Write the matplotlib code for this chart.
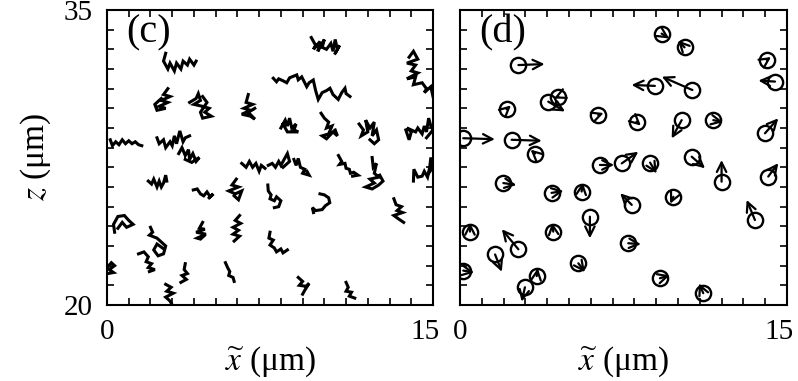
import matplotlib
matplotlib.use('Agg')
import matplotlib.pyplot as plt
import matplotlib.transforms as mtransforms

plt.rcParams['font.family'] = ['Liberation Serif', 'DejaVu Serif']
plt.rcParams['mathtext.fontset'] = 'stix'

# particle tracks for panel (c): (x list, z list) in micrometres
tracks = [
    ([9.4, 9.6, 9.5, 9.8, 9.7, 10.0, 9.9, 10.1, 10.3, 10.4, 10.5, 10.6, 10.7, 10.5],
     [33.6, 33.2, 33.0, 33.4, 32.9, 33.5, 33.1, 33.0, 33.3, 32.9, 33.5, 33.0, 33.2, 32.8]),
    ([2.7, 2.6, 2.8, 2.9, 3.1, 3.2, 3.4, 3.5, 3.7, 3.8, 4.0, 4.1],
     [32.8, 32.4, 32.0, 32.3, 31.9, 32.3, 32.0, 32.4, 32.2, 32.5, 32.2, 32.4]),
    ([13.9, 14.1, 14.3, 13.8, 14.2, 14.0, 14.3, 13.8, 14.2, 14.1, 14.5, 14.7, 14.6, 14.9, 15.0],
     [32.6, 32.9, 32.5, 32.3, 32.2, 31.9, 31.8, 31.5, 31.6, 31.2, 31.3, 31.0, 30.8, 31.1, 30.6]),
    ([7.65, 7.8, 7.9, 8.1, 8.27, 8.4, 8.73, 8.8, 8.96, 9.19, 9.3, 9.49, 9.6, 9.72, 9.9, 10.1,
      10.26, 10.4, 10.64, 10.8, 10.95, 11.0, 11.18],
     [31.53, 31.35, 31.5, 31.4, 31.3, 31.55, 31.7, 31.45, 31.6, 31.1, 31.3, 31.44, 30.9, 30.45,
      30.8, 30.9, 31.02, 30.7, 30.45, 30.8, 31.02, 30.75, 30.6]),
    ([2.8, 2.6, 2.9, 2.5, 2.8, 2.4, 2.7, 2.3, 2.2, 2.5],
     [31.0, 30.7, 30.6, 30.4, 30.3, 30.1, 30.0, 29.9, 30.2, 30.5]),
    ([3.8, 4.1, 4.2, 4.3, 4.0, 4.4, 4.7, 4.5, 4.8, 4.4, 4.3, 4.6, 4.4],
     [30.3, 30.5, 30.75, 30.4, 30.2, 30.1, 30.0, 29.8, 29.6, 29.5, 29.8, 30.3, 30.6]),
    ([6.5, 6.4, 6.7, 6.3, 6.6, 6.2, 6.6, 6.8, 6.5, 6.8],
     [30.7, 30.3, 30.2, 30.0, 29.9, 29.7, 29.6, 29.45, 29.8, 30.0]),
    ([8.0, 8.2, 8.3, 8.4, 8.5, 8.7, 8.6, 8.8, 8.3, 8.1],
     [29.0, 29.4, 29.1, 29.5, 29.0, 29.2, 28.9, 28.8, 28.8, 29.2]),
    ([9.85, 10.0, 10.2, 10.1, 10.35, 10.2, 9.9, 10.1, 10.4, 10.6, 10.5],
     [29.75, 29.5, 29.3, 29.0, 29.1, 28.7, 28.6, 28.45, 28.8, 28.6, 28.9]),
    ([11.6, 11.8, 11.7, 12.0, 11.9, 12.1, 12.3, 12.2, 12.4, 12.5, 12.3, 12.1],
     [29.2, 28.9, 28.6, 28.8, 29.4, 29.0, 29.3, 28.6, 28.9, 28.4, 28.2, 28.4]),
    ([13.75, 13.9, 14.0, 13.8, 14.2, 14.3, 14.5, 14.6, 14.7, 14.8, 14.9, 15.0, 14.7],
     [28.9, 28.4, 28.8, 29.0, 28.8, 29.0, 28.7, 29.1, 28.8, 29.5, 29.1, 28.9, 28.5]),
    ([0.15, 0.25, 0.4, 0.55, 0.7, 0.85, 1.0, 1.15, 1.3, 1.45, 1.6],
     [28.4, 28.1, 28.3, 28.15, 28.4, 28.2, 28.35, 28.2, 28.3, 28.15, 28.1]),
    ([2.3, 2.4, 2.6, 2.7, 2.9, 3.0, 3.1, 3.2, 3.35, 3.5, 3.6, 3.8],
     [28.5, 28.2, 28.4, 28.0, 28.3, 28.1, 28.6, 28.2, 28.85, 28.3, 28.5, 28.6]),
    ([3.3, 3.45, 3.6, 3.75, 3.8, 3.95, 4.1, 4.25, 3.9, 3.6],
     [27.7, 28.0, 27.6, 27.9, 27.4, 27.7, 27.3, 27.5, 27.25, 27.4]),
    ([6.2, 6.4, 6.55, 6.7, 6.85, 7.0, 7.1, 7.27],
     [27.2, 27.0, 27.3, 27.0, 27.2, 26.8, 27.1, 26.95]),
    ([7.42, 7.6, 7.75, 7.9, 8.0, 8.2, 8.3, 8.4, 8.1],
     [27.1, 27.2, 27.0, 27.3, 27.1, 27.5, 27.7, 27.3, 27.0]),
    ([8.6, 8.7, 8.8, 8.9, 9.1, 9.0, 9.3, 9.2],
     [27.4, 27.1, 27.45, 27.0, 26.9, 26.7, 26.6, 26.8]),
    ([10.65, 10.8, 10.7, 10.95, 11.0, 11.15, 11.2, 11.35, 11.55, 11.3],
     [27.6, 27.3, 27.15, 27.2, 26.95, 26.9, 26.7, 26.75, 26.6, 26.55]),
    ([12.2, 12.25, 12.4, 12.3, 12.5, 12.1, 12.3, 11.9, 12.2, 12.5, 12.7, 12.55],
     [27.5, 27.0, 27.2, 26.7, 26.5, 26.4, 26.2, 26.0, 25.9, 26.1, 26.3, 26.6]),
    ([14.1, 14.12, 14.3, 14.5, 14.6, 14.75, 14.85, 14.9, 15.0, 14.8],
     [26.3, 26.9, 26.5, 26.55, 26.8, 26.5, 27.0, 27.5, 27.0, 26.7]),
    ([1.9, 2.05, 2.15, 2.3, 2.4, 2.5, 2.6, 2.7, 2.75],
     [26.3, 26.15, 26.4, 26.0, 26.3, 26.0, 26.2, 26.6, 26.3]),
    ([3.97, 4.15, 4.3, 4.45, 4.6, 4.75, 4.89, 4.7],
     [25.85, 25.9, 25.65, 25.55, 25.75, 25.5, 25.65, 25.45]),
    ([5.95, 5.75, 6.05, 5.6, 5.9, 6.2, 6.05, 5.85],
     [26.4, 26.1, 26.0, 25.8, 25.65, 25.8, 25.35, 25.55]),
    ([7.4, 7.42, 7.55, 7.5, 7.7, 7.8, 8.0, 7.9, 7.7],
     [26.1, 25.8, 25.6, 25.4, 25.3, 25.5, 25.3, 25.0, 24.95]),
    ([9.8, 10.0, 10.2, 10.25, 10.05, 9.9, 9.6, 9.45, 9.5],
     [25.65, 25.6, 25.45, 25.2, 25.05, 24.85, 24.8, 24.95, 24.7]),
    ([13.2, 13.3, 13.55, 13.35, 13.6, 13.2, 13.45, 13.65],
     [25.4, 25.1, 25.0, 24.8, 24.7, 24.55, 24.35, 24.2]),
    ([0.35, 0.3, 0.5, 0.8, 1.0, 1.2, 0.9, 0.7, 0.5],
     [23.7, 24.1, 24.5, 24.55, 24.3, 24.1, 23.95, 24.2, 23.9]),
    ([2.0, 2.1, 1.95, 2.3, 2.5, 2.7, 2.6, 2.35, 2.15, 2.3, 2.55],
     [23.95, 23.7, 23.55, 23.4, 23.2, 23.0, 22.6, 22.5, 22.8, 23.1, 22.9]),
    ([4.4, 4.25, 4.5, 4.1, 4.55, 4.15, 4.3, 4.45],
     [24.2, 23.9, 23.85, 23.7, 23.6, 23.4, 23.35, 23.5]),
    ([6.1, 5.9, 6.15, 5.8, 6.05, 5.8, 6.1, 5.85],
     [24.55, 24.3, 24.15, 23.95, 23.8, 23.6, 23.5, 23.25]),
    ([7.5, 7.45, 7.65, 7.5, 7.7, 7.8, 8.0, 8.1, 8.3],
     [23.7, 23.4, 23.3, 23.05, 22.9, 22.7, 22.85, 22.65, 22.8]),
    ([1.45, 1.7, 1.9, 1.8, 2.05, 1.9, 2.2, 1.95],
     [22.6, 22.7, 22.45, 22.2, 22.1, 21.9, 21.8, 21.7]),
    ([0.0, 0.2, 0.35, 0.1, 0.3, 0.05],
     [21.9, 22.15, 22.0, 21.8, 21.65, 21.6]),
    ([3.6, 3.55, 3.7, 3.45, 3.65, 3.4],
     [22.1, 21.8, 21.6, 21.5, 21.3, 21.15]),
    ([5.45, 5.55, 5.65, 5.6, 5.8, 5.85],
     [22.15, 21.9, 21.7, 21.5, 21.4, 21.2]),
    ([2.7, 2.95, 2.75, 3.05, 2.7, 2.9, 3.0],
     [21.05, 20.9, 20.7, 20.6, 20.4, 20.2, 20.0]),
    ([8.8, 9.0, 8.85, 9.15, 9.3, 9.1, 9.0],
     [21.4, 21.2, 21.0, 20.95, 21.1, 20.75, 20.55]),
    ([11.0, 11.1, 11.0, 11.25, 11.15, 11.4],
     [21.15, 20.9, 20.7, 20.65, 20.45, 20.35]),
]

# panel (d): particle positions and arrow components (micrometres)
px = [9.25, 10.3, 2.68, 14.07, 8.94, 10.66, 14.45, 2.14, 4.05, 4.51, 6.34, 8.1, 10.17, 11.62,
      13.99, 0.15, 2.37, 3.44, 6.42, 7.42, 8.72, 10.63, 12.0, 14.14, 1.99, 4.2, 5.58, 7.88,
      9.79, 13.53, 5.96, 0.46, 4.28, 2.68, 7.72, 1.61, 5.43, 0.15, 3.52, 2.98, 9.17, 11.16]
pz = [33.8, 33.1, 32.2, 32.46, 31.14, 30.93, 31.36, 29.95, 30.34, 30.6, 29.66, 29.32, 29.4,
      29.4, 28.73, 28.48, 28.4, 27.7, 27.12, 27.2, 27.24, 27.54, 26.27, 26.53, 26.2, 25.7,
      25.77, 25.09, 25.5, 24.32, 24.49, 23.73, 23.73, 22.83, 23.14, 22.57, 22.12, 21.75,
      21.47, 20.9, 21.36, 20.6]
adx = [0.35, -0.3, 1.2, 0.2, -1.07, -1.4, -0.76, 0.2, 0.77, -0.2, 0.25, 0.2, -0.46, 0.45,
       0.61, 1.45, 1.38, -0.2, 0.65, 0.76, 0.3, 0.61, 0.0, 0.46, 0.6, 0.55, 0.05, -0.53,
       -0.15, -0.38, 0.0, 0.0, -0.05, -0.76, 0.58, 0.31, 0.3, 0.5, 0.05, -0.15, 0.45, -0.2]
adz = [-0.25, 0.35, 0.05, 0.15, 0.05, 0.68, 0.05, 0.2, -0.5, -0.1, 0.1, -0.2, -0.93, -0.1,
       0.76, -0.05, -0.05, 0.2, 0.0, 0.59, -0.55, -0.59, 1.1, 0.68, -0.1, 0.1, 0.45, 0.59,
       -0.35, 1.02, -1.1, 0.45, 0.45, 1.02, -0.05, -0.88, -0.45, -0.1, 0.4, -0.73, 0.15, 0.5]

x_ticks = list(range(0, 16))
z_ticks = list(range(20, 36))
x_ticklabels = ['0'] + [''] * 14 + ['15']
z_ticklabels = ['20'] + [''] * 14 + ['35']

fig = plt.figure(figsize=(7.98, 3.81), dpi=100)
ax_c = fig.add_axes([0.1341, 0.1995, 0.4085, 0.7743])
ax_d = fig.add_axes([0.5764, 0.1995, 0.4098, 0.7743])

for xs, zs in tracks:
    ax_c.plot(xs, zs, color='black', lw=2.2, solid_joinstyle='miter')

ax_d.plot(px, pz, 'o', mfc='none', mec='black', ms=11, mew=1.7)
for x0, z0, dx, dz in zip(px, pz, adx, adz):
    ax_d.annotate('', xy=(x0 + dx, z0 + dz), xytext=(x0, z0),
                  arrowprops=dict(arrowstyle='->', lw=1.6, color='black',
                                  shrinkA=0, shrinkB=0, mutation_scale=17))

# nudge the right-hand "15" label a little to the left, as in the original
shift = mtransforms.ScaledTranslation(-8 / 100, 0, fig.dpi_scale_trans)

for ax, lab in [(ax_c, '(c)'), (ax_d, '(d)')]:
    ax.set_xlim(0, 15)
    ax.set_ylim(20, 35)
    ax.set_xticks(x_ticks)
    ax.set_xticklabels(x_ticklabels)
    ax.set_yticks(z_ticks)
    ax.tick_params(direction='in', length=5, width=1.2, top=True, right=True,
                   labelsize=21, pad=10)
    for s in ax.spines.values():
        s.set_linewidth(1.5)
    ax.set_xlabel(r'$\widetilde{x}$ (μm)', fontsize=24, labelpad=0)
    ax.text(0.06, 0.985, lab, transform=ax.transAxes, fontsize=29, va='top', ha='left')
    last = ax.get_xticklabels()[-1]
    last.set_transform(last.get_transform() + shift)

ax_c.set_yticklabels(z_ticklabels)
ax_c.set_ylabel(r'$z$ (μm)', fontsize=24, labelpad=8)
ax_d.set_yticklabels([''] * len(z_ticks))

fig.savefig('out.png', dpi=100)
